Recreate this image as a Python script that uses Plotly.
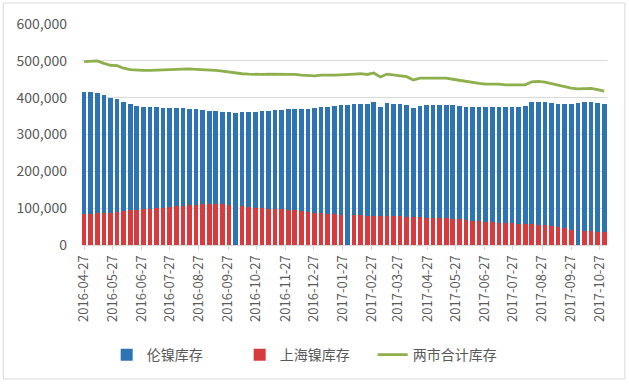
import plotly.graph_objects as go
import pandas as pd

# Weekly bars (Mon-Fri trading week, centred on Wednesday)
week_start = "2016-04-27"
n_weeks = 80
dates = list(pd.date_range(week_start, periods=n_weeks, freq="7D").strftime("%Y-%m-%d"))

lme_stock = [
    415, 415, 414, 406, 400, 397, 388, 382, 378, 376,
    375, 375, 373, 372, 372, 371, 370, 368, 366, 365,
    363, 362, 360, 359, 360, 361, 362, 363, 365, 366,
    367, 368, 369, 369, 370, 371, 375, 376, 378, 380,
    381, 383, 384, 383, 387, 376, 385, 383, 382, 380,
    372, 378, 379, 380, 381, 381, 379, 377, 375, 374,
    375, 375, 376, 376, 375, 376, 375, 378, 387, 389,
    388, 386, 384, 383, 384, 386, 387, 388, 386, 383,
]
shfe_stock = [
    83, 84, 86, 87, 88, 90, 92, 94, 96, 98,
    99, 100, 101, 103, 105, 107, 108, 109, 110, 111,
    111, 110, 109, None, 105, 103, 101, 100, 99, 98,
    97, 96, 94, 92, 90, 88, 86, 84, 83, 82,
    None, 81, 81, 80, 80, 80, 79, 79, 78, 77,
    76, 75, 74, 73, 73, 72, 71, 70, 68, 66,
    64, 62, 62, 61, 60, 59, 58, 57, 56, 55,
    54, 52, 50, 46, 42, None, 38, 37, 36, 35,
]
total_stock = [
    498, 499, 500, 493, 488, 487, 480, 476, 474, 474,
    474, 475, 474, 475, 477, 478, 478, 477, 476, 476,
    474, 472, 469, 468, 465, 464, 463, 463, 464, 464,
    464, 464, 463, 461, 460, 459, 461, 460, 461, 462,
    462, 464, 465, 463, 467, 456, 464, 462, 460, 457,
    448, 453, 453, 453, 454, 453, 450, 447, 443, 440,
    439, 437, 438, 437, 435, 435, 433, 435, 443, 444,
    442, 438, 434, 429, 426, 424, 425, 425, 422, 418,
]
unit = 1000  # values above are in thousand tonnes

tick_labels = [
    "2016-04-27", "2016-05-27", "2016-06-27", "2016-07-27", "2016-08-27",
    "2016-09-27", "2016-10-27", "2016-11-27", "2016-12-27", "2017-01-27",
    "2017-02-27", "2017-03-27", "2017-04-27", "2017-05-27", "2017-06-27",
    "2017-07-27", "2017-08-27", "2017-09-27", "2017-10-27",
]
series_names = ["伦镍库存", "上海镍库存", "两市合计库存"]

lme_vals = [v * unit for v in lme_stock]
shfe_vals = [None if v is None else v * unit for v in shfe_stock]
total_vals = [v * unit for v in total_stock]

bar_w = 5 * 86400000
font_fam = "Noto Sans CJK SC, Liberation Sans, sans-serif"

fig = go.Figure()
fig.add_trace(go.Bar(x=dates, y=lme_vals, name=series_names[0], width=bar_w,
                     marker=dict(color="#2E74B5", line=dict(width=0))))
fig.add_trace(go.Bar(x=dates, y=shfe_vals, name=series_names[1], width=bar_w,
                     marker=dict(color="#D83B3D", line=dict(width=0))))
fig.add_trace(go.Scatter(x=dates, y=total_vals, name=series_names[2], mode="lines",
                         line=dict(color="#8DB04C", width=2.8)))

fig.update_layout(
    width=629, height=384,
    margin=dict(l=82, r=22, t=24, b=139),
    paper_bgcolor="white", plot_bgcolor="white",
    barmode="overlay", bargap=0,
    font=dict(family=font_fam, size=12, color="#595959"),
    legend=dict(orientation="h", x=0.427, xanchor="center", y=-0.498, yanchor="middle",
                font=dict(size=14, color="#595959"), traceorder="normal",
                itemwidth=30, entrywidth=88, entrywidthmode="pixels"),
    shapes=[dict(type="rect", xref="paper", yref="paper",
                 x0=-0.150, x1=1.034, y0=-0.606, y1=1.095,
                 line=dict(color="#D9D9D9", width=1), fillcolor="rgba(0,0,0,0)",
                 layer="above")],
)
fig.update_xaxes(
    type="date", range=["2016-04-24T18:00", "2017-11-04"],
    tickmode="array", tickvals=tick_labels, ticktext=tick_labels,
    tickangle=-90, showgrid=False, showline=True, linecolor="#D9D9D9",
    ticks="outside", ticklen=4, tickcolor="#D9D9D9",
    tickfont=dict(size=13, color="#595959"),
)
fig.update_yaxes(
    range=[0, 600000], dtick=100000, tickformat=",",
    showgrid=True, gridcolor="#D9D9D9", zeroline=False, showline=False,
    tickfont=dict(size=14, color="#595959"), ticks="", ticklabelstandoff=14,
)

fig.write_html("out.html", config={"displayModeBar": False},
               post_script="document.body.style.margin='0';")
